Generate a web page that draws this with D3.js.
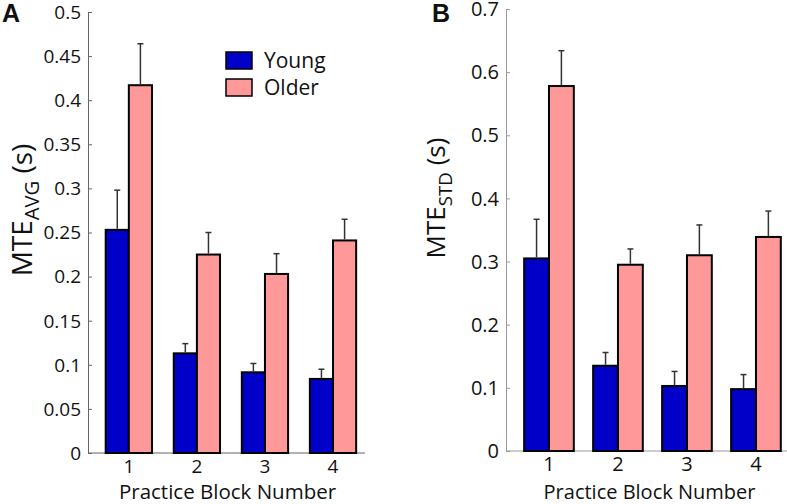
<!DOCTYPE html>
<html lang="en">
  <head>
    <meta charset="UTF-8" />
    <title>MTE by practice block</title>
    <style>
      body { margin: 0; background: #fff; }
      text { font-family: "Open Sans", sans-serif; fill: #111; }
      .bar { stroke: #000; stroke-width: 2; }
      .err line { stroke: #333; stroke-width: 1.5; }
    </style>
  </head>
  <body>
    <svg id="chart" width="787" height="504"></svg>
  </body>
  <script src="https://cdn.jsdelivr.net/npm/d3@7"></script>
  <script>
    // values
    const blocks = [1, 2, 3, 4];
    const groups = ["Young", "Older"];
    const colors = ["#0000c8", "#ff9999"];

    const avgYoung = [0.253, 0.113, 0.0915, 0.084];
    const avgYoungErr = [0.045, 0.011, 0.01, 0.011];
    const avgOlder = [0.417, 0.225, 0.203, 0.241];
    const avgOlderErr = [0.047, 0.025, 0.023, 0.024];

    const stdYoung = [0.305, 0.135, 0.103, 0.098];
    const stdYoungErr = [0.062, 0.021, 0.023, 0.023];
    const stdOlder = [0.578, 0.295, 0.31, 0.339];
    const stdOlderErr = [0.056, 0.025, 0.048, 0.041];

    const avgTicks = [0, 0.05, 0.1, 0.15, 0.2, 0.25, 0.3, 0.35, 0.4, 0.45, 0.5];
    const stdTicks = [0, 0.1, 0.2, 0.3, 0.4, 0.5, 0.6, 0.7];

    const svg = d3.select("#chart");

    function drawPanel(p) {
      const g = svg.append("g");
      let x = d3.scaleLinear().domain(p.xDomain).range([p.left, p.right]);
      let y = d3.scaleLinear().domain(p.yDomain).range([p.bottom, p.top]);
      const bw = p.barW;

      // axes: y with inward ticks, x just a line with labels
      g.append("g")
        .attr("transform", `translate(${p.left},0)`)
        .call(d3.axisRight(y).tickValues(p.ticks).tickSize(4).tickFormat(""))
        .call((a) => a.select(".domain").attr("stroke", p.axisColor))
        .call((a) => a.selectAll(".tick line").attr("stroke", p.axisColor));

      g.selectAll(".ytick")
        .data(p.ticks)
        .enter()
        .append("text")
        .attr("x", p.left - 7)
        .attr("y", (d) => y(d))
        .attr("dy", "0.36em")
        .attr("text-anchor", "end")
        .style("font-size", p.tickSize + "px")
        .text((d) => d3.format("~r")(d));

      g.append("line")
        .attr("x1", p.left)
        .attr("x2", p.right)
        .attr("y1", y(0))
        .attr("y2", y(0))
        .attr("stroke", p.axisColor);

      g.selectAll(".xtick")
        .data(blocks)
        .enter()
        .append("text")
        .attr("x", (d) => x(d))
        .attr("y", y(0) + 20)
        .attr("text-anchor", "middle")
        .style("font-size", p.tickSize + "px")
        .text((d) => d);

      // bars
      p.series.forEach((s, i) => {
        const off = i === 0 ? -bw : 0;
        g.selectAll(".bar" + i)
          .data(blocks)
          .enter()
          .append("rect")
          .attr("class", "bar")
          .attr("x", (d) => x(d + off))
          .attr("width", x(bw) - x(0))
          .attr("y", (d, j) => y(s.values[j]))
          .attr("height", (d, j) => y(0) - y(s.values[j]))
          .attr("fill", colors[i]);

        const eg = g.append("g").attr("class", "err");
        blocks.forEach((d, j) => {
          const cx = x(d + off + bw / 2);
          const top = y(s.values[j] + s.err[j]);
          eg.append("line").attr("x1", cx).attr("x2", cx)
            .attr("y1", y(s.values[j]) - 1).attr("y2", top);
          eg.append("line").attr("x1", cx - 3).attr("x2", cx + 3)
            .attr("y1", top).attr("y2", top);
        });
      });

      // y label with subscript
      const lab = g.append("text")
        .attr("transform", `translate(${p.labelX},${p.labelY}) rotate(-90)`)
        .attr("text-anchor", "middle")
        .style("font-size", p.labelSize + "px");
      lab.append("tspan").text("MTE");
      lab.append("tspan").attr("dy", 7).style("font-size", (p.labelSize * 0.72) + "px").text(p.sub);
      lab.append("tspan").attr("dy", -7).text(" (s)");

      g.append("text")
        .attr("x", (p.left + p.right) / 2 + p.titleShift)
        .attr("y", 499)
        .attr("text-anchor", "middle")
        .style("font-size", p.titleSize + "px")
        .text("Practice Block Number");

      g.append("text")
        .attr("x", p.letterX)
        .attr("y", p.letterY)
        .style("font-size", "25px")
        .style("font-weight", "bold")
        .style("font-family", "Liberation Sans, Arial, sans-serif")
        .text(p.letter);
    }

    drawPanel({
      letter: "A", letterX: 2, letterY: 22,
      left: 88, right: 365, top: 12, bottom: 453,
      xDomain: [0.4, 4.47], yDomain: [0, 0.5], barW: 0.34,
      ticks: avgTicks, axisColor: "#666", tickSize: 19,
      sub: "AVG", labelX: 32, labelY: 210, labelSize: 28,
      titleSize: 20.5, titleShift: 1,
      series: [
        { values: avgYoung, err: avgYoungErr },
        { values: avgOlder, err: avgOlderErr },
      ],
    });

    drawPanel({
      letter: "B", letterX: 432, letterY: 22,
      left: 506, right: 787, top: 9, bottom: 451,
      xDomain: [0.377, 4.45], yDomain: [0, 0.7], barW: 0.36,
      ticks: stdTicks, axisColor: "#999", tickSize: 20,
      sub: "STD", labelX: 445, labelY: 198, labelSize: 26,
      titleSize: 20, titleShift: 3,
      series: [
        { values: stdYoung, err: stdYoungErr },
        { values: stdOlder, err: stdOlderErr },
      ],
    });

    // legend inside panel A
    const leg = svg.append("g").attr("transform", "translate(226,52)");
    groups.forEach((name, i) => {
      leg.append("rect")
        .attr("x", 0).attr("y", i * 27)
        .attr("width", 26).attr("height", 17)
        .attr("fill", colors[i])
        .attr("stroke", "#000").attr("stroke-width", 1.5);
      leg.append("text")
        .attr("x", 38).attr("y", i * 27 + 16)
        .style("font-size", "21px")
        .text(name);
    });
  </script>
</html>
